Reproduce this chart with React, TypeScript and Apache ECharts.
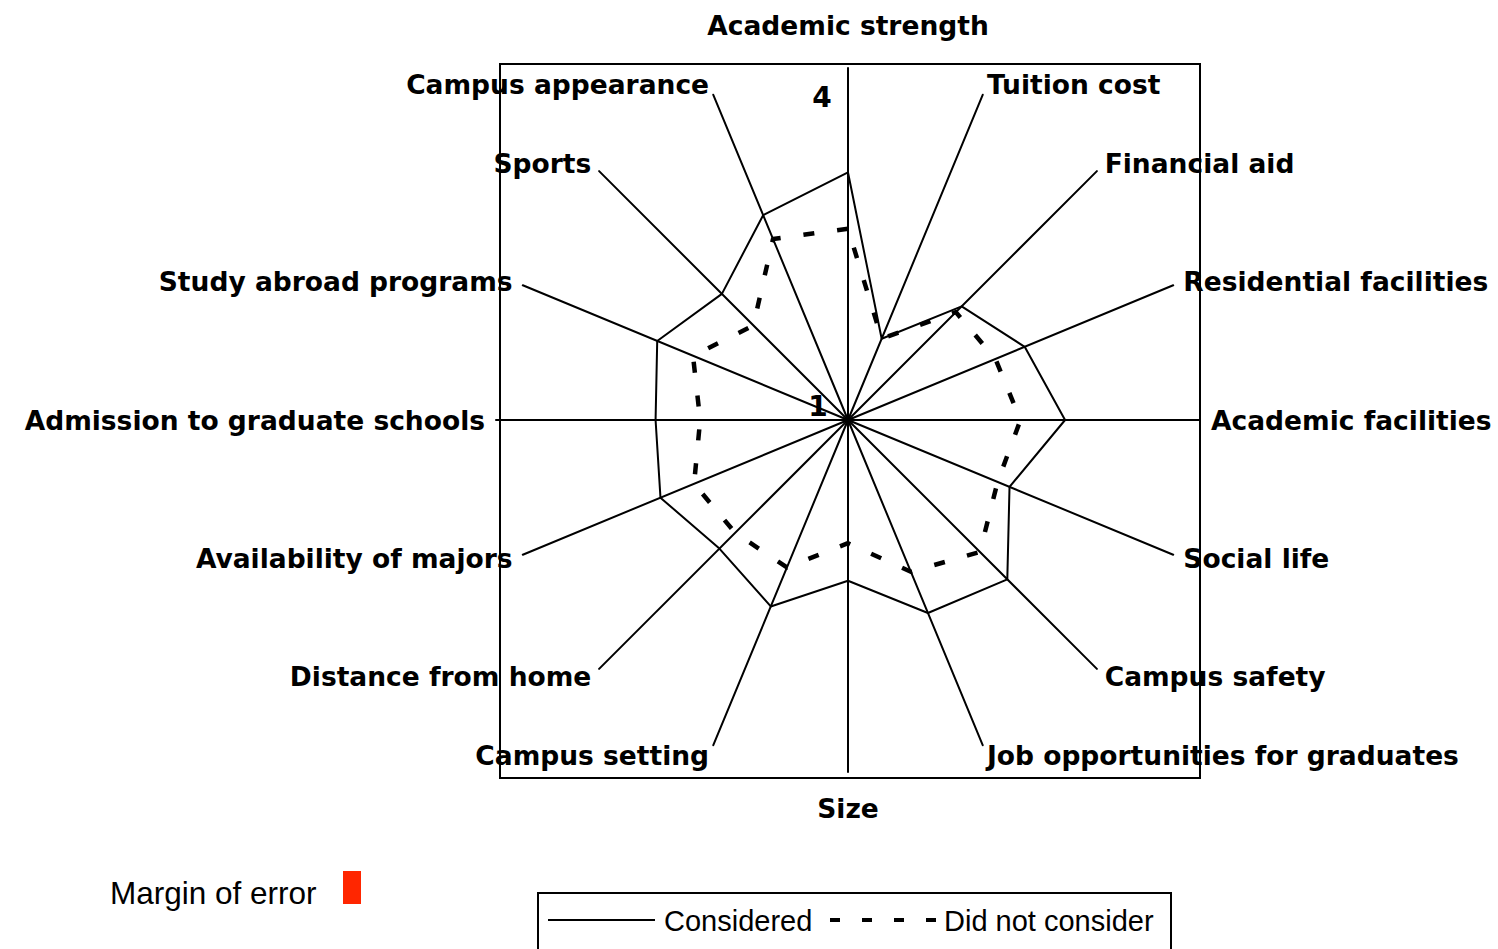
import React, { useEffect, useRef } from "react";
import * as echarts from "echarts";

// Factors, listed clockwise starting from the top
const factors = [
  "Academic strength",
  "Tuition cost",
  "Financial aid",
  "Residential facilities",
  "Academic facilities",
  "Social life",
  "Campus safety",
  "Job opportunities for graduates",
  "Size",
  "Campus setting",
  "Distance from home",
  "Availability of majors",
  "Admission to graduate schools",
  "Study abroad programs",
  "Sports",
  "Campus appearance",
];

const considered = [
  3.11, 1.75, 2.37, 2.63, 2.85, 2.49, 2.92, 2.78,
  2.37, 2.72, 2.55, 2.73, 2.64, 2.76, 2.52, 2.89,
];

const didNotConsider = [
  2.63, 1.75, 2.3, 2.36, 2.47, 2.38, 2.59, 2.4,
  2.05, 2.36, 2.36, 2.42, 2.26, 2.43, 2.14, 2.67,
];

const scaleMin = 1;
const scaleMax = 4;
const tickLabels = ["1", "4"];
const seriesNames = ["Considered", "Did not consider"];
const marginLabel = "Margin of error";

// ECharts lays radar indicators counter-clockwise; reorder to get clockwise
const order = [0, ...Array.from({ length: factors.length - 1 }, (_, i) => factors.length - 1 - i)];
const reorder = (arr: any[]) => order.map((i) => arr[i]);

const BOLD = "'DejaVu Sans', sans-serif";
const REG = "'Liberation Sans', Arial, sans-serif";

export default function App() {
  const ref = useRef<HTMLDivElement>(null);

  useEffect(() => {
    if (!ref.current) return;
    const chart = echarts.init(ref.current, null, { renderer: "svg" });

    const labelStyle = {
      fontFamily: BOLD,
      fontWeight: "bold",
      fontSize: 26.5,
      color: "#000",
    };

    chart.setOption({
      animation: false,
      backgroundColor: "#fff",
      radar: {
        center: [848, 420],
        radius: 352,
        startAngle: 90,
        shape: "polygon",
        splitNumber: 3,
        nameGap: 11,
        indicator: reorder(factors).map((name) => ({ name, min: scaleMin, max: scaleMax })),
        axisName: {
          ...labelStyle,
          formatter: (name: string) => {
            if (name === "Academic strength") return "{top|" + name + "}";
            if (name === "Size") return "{bot|" + name + "}";
            return name;
          },
          rich: {
            top: { ...labelStyle, lineHeight: 64 },
            bot: { ...labelStyle, lineHeight: 50 },
          },
        },
        axisLine: { show: true, lineStyle: { color: "#000", width: 2 } },
        splitLine: { show: false },
        splitArea: { show: false },
        axisTick: { show: false },
        axisLabel: { show: false },
      },
      series: [
        {
          type: "radar",
          symbol: "none",
          silent: true,
          data: [
            {
              name: seriesNames[0],
              value: reorder(considered),
              lineStyle: { color: "#000", width: 2, type: "solid" },
            },
            {
              name: seriesNames[1],
              value: reorder(didNotConsider),
              lineStyle: { color: "#000", width: 4.5, type: [11, 23] },
            },
          ],
        },
      ],
      graphic: [
        {
          type: "rect",
          silent: true,
          shape: { x: 500, y: 64, width: 700, height: 714 },
          style: { fill: "none", stroke: "#000", lineWidth: 2 },
          z: -1,
        },
        {
          type: "text",
          x: 822,
          y: 97,
          style: {
            text: tickLabels[1],
            font: "bold 28px " + BOLD,
            fill: "#000",
            align: "center",
            verticalAlign: "middle",
          },
        },
        {
          type: "text",
          x: 818,
          y: 406,
          style: {
            text: tickLabels[0],
            font: "bold 28px " + BOLD,
            fill: "#000",
            align: "center",
            verticalAlign: "middle",
          },
        },
        {
          type: "text",
          x: 110,
          y: 893,
          style: {
            text: marginLabel,
            font: "31.5px " + REG,
            fill: "#000",
            align: "left",
            verticalAlign: "middle",
          },
        },
        {
          type: "rect",
          shape: { x: 343, y: 871, width: 18, height: 33 },
          style: { fill: "#ff2600" },
        },
        {
          type: "rect",
          shape: { x: 538, y: 893, width: 633, height: 80 },
          style: { fill: "none", stroke: "#000", lineWidth: 2 },
        },
        {
          type: "line",
          shape: { x1: 548, y1: 920, x2: 655, y2: 920 },
          style: { stroke: "#000", lineWidth: 2 },
        },
        {
          type: "text",
          x: 664,
          y: 921,
          style: {
            text: seriesNames[0],
            font: "29px " + REG,
            fill: "#000",
            align: "left",
            verticalAlign: "middle",
          },
        },
        {
          type: "line",
          shape: { x1: 830, y1: 920, x2: 938, y2: 920 },
          style: { stroke: "#000", lineWidth: 4, lineDash: [10, 22] },
        },
        {
          type: "text",
          x: 944,
          y: 921,
          style: {
            text: seriesNames[1],
            font: "29px " + REG,
            fill: "#000",
            align: "left",
            verticalAlign: "middle",
          },
        },
      ],
    });

    return () => chart.dispose();
  }, []);

  return (
    <div
      ref={ref}
      style={{ position: "absolute", left: 0, top: 0, width: 1498, height: 949 }}
    />
  );
}
